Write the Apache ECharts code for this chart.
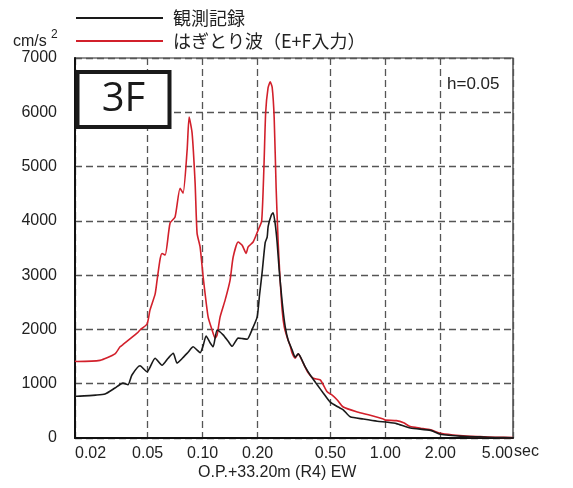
<!DOCTYPE html>
<html>
<head>
<meta charset="utf-8">
<script src="https://cdn.jsdelivr.net/npm/echarts@6/dist/echarts.min.js"></script>
<style>
  html, body { margin: 0; padding: 0; background: #fff; }
  #chart { width: 573px; height: 488px; }
</style>
</head>
<body>
<div id="chart"></div>
<script>
// 周期軸の目盛
const tickPeriods = [0.02, 0.05, 0.1, 0.2, 0.5, 1, 2, 5];
const tickLabels = ['0.02', '0.05', '0.10', '0.20', '0.50', '1.00', '2.00', '5.00'];

// 観測記録（黒）
const obsPeriod = [0.020, 0.0205, 0.0260, 0.0292, 0.0331, 0.0366, 0.0390, 0.0410, 0.0454, 0.0496, 0.0549, 0.0599, 0.0647, 0.0690, 0.0724, 0.0780, 0.0832, 0.0887, 0.0932, 0.0968, 0.1006, 0.1044, 0.1100, 0.1141, 0.1200, 0.1294, 0.1380, 0.1450, 0.1564, 0.1660, 0.1752, 0.1866, 0.1988, 0.2050, 0.2116, 0.2199, 0.2255, 0.2283, 0.2372, 0.2432, 0.2494, 0.2557, 0.2623, 0.2725, 0.2830, 0.2939, 0.3091, 0.3210, 0.3334, 0.3642, 0.3879, 0.4236, 0.4570, 0.4992, 0.5523, 0.5883, 0.6426, 0.7572, 0.9034, 1.025, 1.15, 1.37, 1.77, 2.00, 2.67, 3.30, 4.00, 5.00];
const obsAccel = [780, 770, 790, 810, 920, 1010, 980, 1160, 1330, 1220, 1470, 1340, 1470, 1560, 1380, 1480, 1580, 1680, 1620, 1570, 1700, 1880, 1750, 1680, 1990, 1900, 1780, 1690, 1840, 1830, 1820, 2000, 2230, 2650, 3050, 3600, 3700, 3900, 4100, 4150, 3950, 3600, 3100, 2500, 2050, 1800, 1620, 1490, 1550, 1310, 1160, 980, 830, 660, 570, 520, 390, 350, 310, 290, 265, 185, 140, 70, 30, 20, 10, 5];

// はぎとり波（赤）
const stripPeriod = [0.020, 0.0205, 0.0274, 0.0331, 0.0353, 0.0366, 0.0437, 0.0454, 0.0496, 0.0515, 0.0549, 0.0563, 0.0585, 0.0599, 0.0623, 0.0663, 0.0706, 0.0752, 0.0781, 0.0822, 0.0843, 0.0875, 0.0909, 0.0932, 0.0968, 0.1006, 0.1071, 0.1126, 0.1170, 0.1200, 0.1246, 0.1327, 0.1413, 0.1468, 0.1564, 0.1645, 0.1730, 0.1774, 0.1889, 0.2012, 0.2104, 0.2165, 0.2213, 0.2280, 0.2343, 0.2402, 0.2463, 0.2525, 0.2590, 0.2646, 0.2725, 0.2795, 0.2902, 0.3014, 0.3091, 0.3210, 0.3334, 0.3551, 0.3782, 0.4030, 0.4400, 0.4806, 0.5119, 0.5455, 0.5883, 0.7020, 0.8270, 0.9746, 1.00, 1.15, 1.26, 1.37, 1.56, 1.77, 2.00, 2.35, 2.78, 3.30, 4.00, 5.00];
const stripAccel = [1420, 1410, 1430, 1550, 1680, 1720, 1930, 1990, 2100, 2360, 2650, 2910, 3300, 3400, 3370, 3960, 4070, 4600, 4510, 5300, 5910, 5620, 4700, 3770, 3520, 2970, 2230, 1990, 1840, 1900, 2230, 2540, 2910, 3330, 3610, 3550, 3400, 3520, 3610, 3830, 4000, 5000, 6000, 6450, 6560, 6460, 5900, 4600, 3600, 3000, 2350, 2050, 1850, 1700, 1560, 1470, 1550, 1380, 1200, 1100, 1070, 850, 790, 700, 570, 480, 420, 350, 330, 320, 280, 210, 180, 150, 85, 55, 35, 25, 15, 8];

const toPoints = (ts, vs) => ts.map((t, i) => [Math.log10(t), vs[i]]);
const tickLogs = tickPeriods.map(Math.log10);
const labelFor = v => {
    let best = 0;
    tickLogs.forEach((l, i) => { if (Math.abs(l - v) < Math.abs(tickLogs[best] - v)) best = i; });
    return tickLabels[best];
};

const latin = '"Liberation Sans", Arial, sans-serif';
const cjk = '"Noto Sans CJK JP", "Liberation Sans", sans-serif';

const myChart = echarts.init(document.getElementById('chart'));
myChart.setOption({
    animation: false,
    grid: {
        left: 75, right: 60, top: 58, bottom: 50,
        show: true, borderColor: '#222', borderWidth: 1.2
    },
    legend: {
        orient: 'vertical',
        left: 76, top: 9, padding: 0,
        itemWidth: 87, itemHeight: 2, itemGap: 5,
        icon: 'rect',
        textStyle: { fontFamily: cjk, fontSize: 18, color: '#222', padding: [0, 0, 0, 5] },
        data: ['観測記録', 'はぎとり波（E+F入力）']
    },
    xAxis: {
        type: 'value',
        min: tickLogs[0],
        max: tickLogs[tickLogs.length - 1],
        axisLine: { onZero: false, lineStyle: { color: '#111', width: 2 } },
        axisTick: { show: false, customValues: tickLogs },
        axisLabel: {
            customValues: tickLogs,
            formatter: v => labelFor(v),
            alignMinLabel: 'left',
            alignMaxLabel: 'right',
            fontFamily: latin, fontSize: 16, color: '#222', margin: 8
        },
        splitLine: { show: true, lineStyle: { color: '#555', type: [7, 4], width: 1.3 } }
    },
    yAxis: {
        type: 'value',
        min: 0, max: 7000, interval: 1000,
        axisLine: { show: true, onZero: false, lineStyle: { color: '#111', width: 2 } },
        axisTick: { show: false },
        axisLabel: { formatter: v => String(v), fontFamily: latin, fontSize: 16, color: '#222', margin: 18 },
        splitLine: { show: true, lineStyle: { color: '#555', type: [7, 4], width: 1.3 } }
    },
    series: [{
        name: 'はぎとり波（E+F入力）',
        type: 'line',
        data: toPoints(stripPeriod, stripAccel),
        showSymbol: false,
        smooth: 0.2,
        color: '#d2202b',
        lineStyle: { width: 1.6, color: '#d2202b' }
    }, {
        name: '観測記録',
        type: 'line',
        data: toPoints(obsPeriod, obsAccel),
        showSymbol: false,
        smooth: 0.2,
        color: '#1a1a1a',
        lineStyle: { width: 1.6, color: '#1a1a1a' }
    }],
    graphic: [
        { type: 'text', left: 13, top: 34, style: { text: 'cm/s', font: '16px ' + latin, fill: '#222' } },
        { type: 'text', left: 51, top: 29, style: { text: '2', font: '12px ' + latin, fill: '#222' } },
        {
            type: 'rect', z: 10,
            shape: { x: 77.5, y: 72, width: 92, height: 55 },
            style: { fill: '#fff', stroke: '#1a1a1a', lineWidth: 4 }
        },
        {
            type: 'text', z: 11, x: 123.5, y: 100,
            style: { text: '3F', font: '40px "Open Sans", "Noto Sans", sans-serif', fill: '#1a1a1a', align: 'center', verticalAlign: 'middle' }
        },
        { type: 'text', left: 447, top: 76, style: { text: 'h=0.05', font: '17px ' + latin, fill: '#222' } },
        { type: 'text', left: 514, top: 444, style: { text: 'sec', font: '16px ' + latin, fill: '#222' } },
        { type: 'text', left: 198, top: 465, style: { text: 'O.P.+33.20m (R4) EW', font: '16px ' + latin, fill: '#222' } }
    ]
});
window.addEventListener('resize', () => {
    myChart.resize();
});
</script>
</body>
</html>
